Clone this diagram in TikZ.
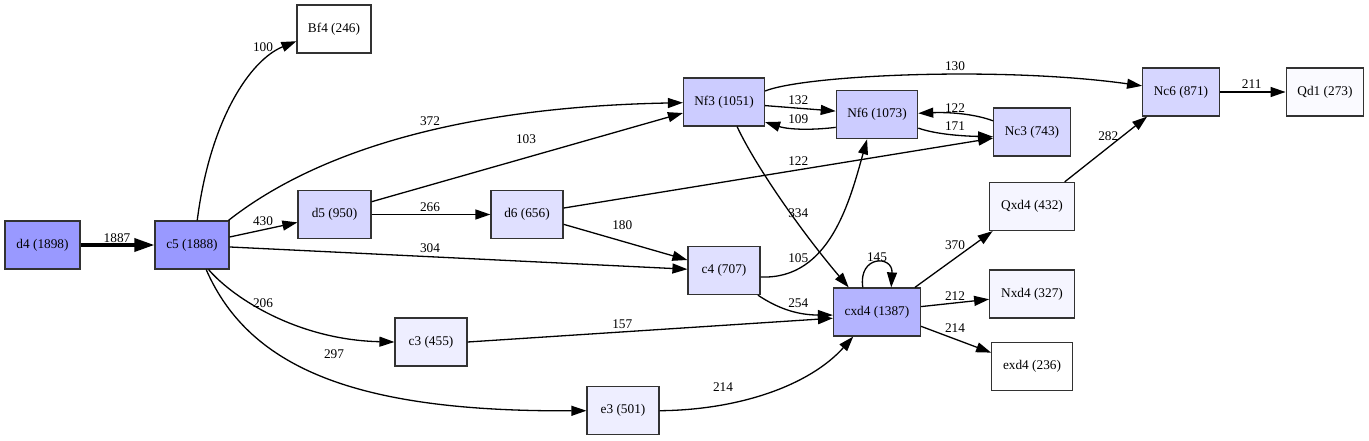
\documentclass[tikz,border=0pt]{standalone}
\usepackage{fontspec}
\setmainfont{Liberation Serif}
\usetikzlibrary{arrows.meta}
\definecolor{fA}{RGB}{153,153,255}
\definecolor{fB}{RGB}{180,180,255}
\definecolor{fC}{RGB}{204,204,255}
\definecolor{fD}{RGB}{214,214,255}
\definecolor{fE}{RGB}{224,224,255}
\definecolor{fF}{RGB}{238,238,255}
\definecolor{fG}{RGB}{245,245,255}
\definecolor{fH}{RGB}{250,250,255}
\definecolor{bord}{RGB}{50,50,50}
\begin{document}
\begin{tikzpicture}[x=1pt,y=-1pt,
  box/.style={draw=bord, line width=1.2pt, minimum height=48pt, inner sep=0pt, font=\fontsize{13.3}{16}\selectfont},
  lbl/.style={inner sep=0pt, font=\fontsize{13.3}{16}\selectfont},
  edge/.style={draw=black, line width=1.3pt, -{Triangle[length=15pt,width=10pt]}}
]
\useasboundingbox (0,0) rectangle (1369,440);
% nodes
\node[box, fill=fA, minimum width=75pt] (d4) at (42.5,245) {d4 (1898)};
\node[box, fill=fA, minimum width=74pt] (c5) at (192,245) {c5 (1888)};
\node[box, fill=white, minimum width=74pt] (Bf4) at (334,29) {Bf4 (246)};
\node[box, fill=fD, minimum width=73pt] (d5) at (334.5,214.5) {d5 (950)};
\node[box, fill=fF, minimum width=72pt] (c3) at (431,342) {c3 (455)};
\node[box, fill=fF, minimum width=72pt] (e3) at (623,410.7) {e3 (501)};
\node[box, fill=fC, minimum width=81pt] (Nf3) at (724,102) {Nf3 (1051)};
\node[box, fill=fC, minimum width=81.4pt] (Nf6) at (877,114.7) {Nf6 (1073)};
\node[box, fill=fE, minimum width=72pt] (d6) at (527,214.5) {d6 (656)};
\node[box, fill=fE, minimum width=72pt] (c4) at (724,270.5) {c4 (707)};
\node[box, fill=fB, minimum width=87pt] (cxd4) at (877,312) {cxd4 (1387)};
\node[box, fill=fD, minimum width=76.6pt] (Nc3) at (1032,132) {Nc3 (743)};
\node[box, fill=fD, minimum width=76.7pt] (Nc6) at (1181,92) {Nc6 (871)};
\node[box, fill=fH, minimum width=77.7pt] (Qd1) at (1325,92) {Qd1 (273)};
\node[box, fill=fG, minimum width=84.6pt] (Qxd4) at (1032,206.5) {Qxd4 (432)};
\node[box, fill=fG, minimum width=84.6pt] (Nxd4) at (1032,294) {Nxd4 (327)};
\node[box, fill=white, minimum width=80.6pt] (exd4) at (1032,366.7) {exd4 (236)};
% edges
\draw[edge, line width=3.5pt, -{Triangle[length=20pt,width=13pt]}] (d4) -- (c5);
\draw[edge] (c5.78) .. controls (210,120) and (250,60) .. (Bf4.198);
\draw[edge] (c5.34) .. controls (280,180) and (400,108) .. (Nf3.181);
\draw[edge] (c5.12) -- (d5.192);
\draw[edge] (c5.357) -- (c4.178);
\draw[edge] (c5.304) .. controls (235,300) and (300,340) .. (c3.west);
\draw[edge] (c5.300) .. controls (250,370) and (360,412) .. (e3.west);
\draw[edge] (d5.19) -- (Nf3.195);
\draw[edge] (d5) -- (d6);
\draw[edge] (d6.10) -- (Nc3.189);
\draw[edge] (d6.345) -- (c4.164);
\draw[edge] (Nf3.15) .. controls (805,75) and (1000,66) .. (Nc6.171);
\draw[edge] (Nf3.355) -- (Nf6.175);
\draw[edge] (Nf6.197) .. controls (815,130) and (790,130) .. (Nf3.334);
\draw[edge] (Nf3.298) .. controls (755,165) and (800,230) .. (cxd4.139);
\draw[edge] (c4.350) .. controls (830,280) and (850,200) .. (Nf6.248);
\draw[edge] (c4.324) .. controls (780,310) and (800,315) .. (cxd4.184);
\draw[edge] (c3.east) -- (cxd4.188);
\draw[edge] (e3.east) .. controls (740,410) and (810,385) .. (cxd4.226);
\draw[edge] (cxd4.120) .. controls (858,255) and (893,255) .. (cxd4.60);
\draw[edge] (Nc3.164) .. controls (975,114) and (950,112) .. (Nf6.2);
\draw[edge] (Nf6.342) .. controls (935,134) and (960,136) .. (Nc3.187);
\draw[edge] (cxd4.33) -- (Qxd4.212);
\draw[edge] (cxd4.7) -- (Nxd4.187);
\draw[edge] (cxd4.342) -- (exd4.161);
\draw[edge] (Qxd4.37) -- (Nc6.216);
\draw[edge] (Nc6) -- (Qd1);
% edge labels
\node[lbl] (l1887) at (117,238.5) {1887};
\node[lbl] (l100) at (263,47.5) {100};
\node[lbl] (l372) at (430,120.7) {372};
\node[lbl] (l430) at (263,220.7) {430};
\node[lbl] (l266) at (430,207.3) {266};
\node[lbl] (l304) at (430,248.3) {304};
\node[lbl] (l206) at (263,302.7) {206};
\node[lbl] (l297) at (334,354.3) {297};
\node[lbl] (l103) at (526,139.3) {103};
\node[lbl] (l132) at (798.3,100) {132};
\node[lbl] (l109) at (798.3,119.3) {109};
\node[lbl] (l122a) at (798.3,161) {122};
\node[lbl] (l334) at (798.3,213.3) {334};
\node[lbl] (l180) at (622.3,225) {180};
\node[lbl] (l105) at (798.3,258.3) {105};
\node[lbl] (l254) at (798.3,303.3) {254};
\node[lbl] (l157) at (622.3,324.3) {157};
\node[lbl] (l145) at (877,256.7) {145};
\node[lbl] (l130) at (955,66) {130};
\node[lbl] (l122b) at (955,107.7) {122};
\node[lbl] (l171) at (955,126.3) {171};
\node[lbl] (l282) at (1108.3,135.7) {282};
\node[lbl] (l211) at (1251.7,84.3) {211};
\node[lbl] (l370) at (955,245) {370};
\node[lbl] (l212) at (955,295.7) {212};
\node[lbl] (l214a) at (955,328.3) {214};
\node[lbl] (l214b) at (723,387) {214};
\end{tikzpicture}
\end{document}
